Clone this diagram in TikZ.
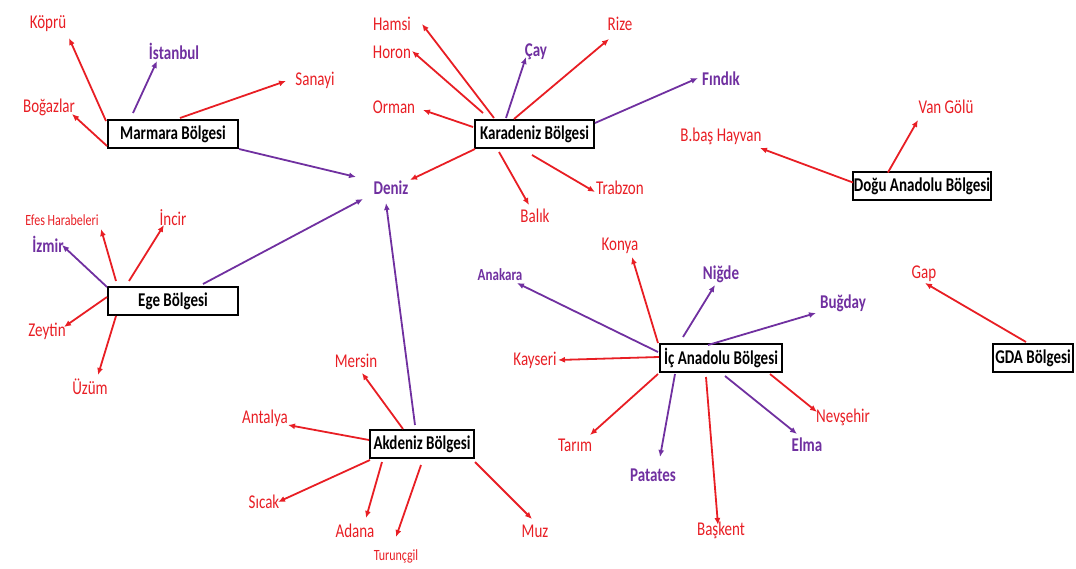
\documentclass[tikz,border=0pt]{standalone}
\usepackage{fontspec}
\usepackage{graphicx}
\setmainfont{Carlito}
\usetikzlibrary{arrows.meta}
\definecolor{rd}{RGB}{232,30,36}
\definecolor{pu}{RGB}{112,48,160}
% the original text is drawn taller than it is wide
\newcommand{\st}[1]{\scalebox{1}[1.3]{#1}}
\begin{document}
\begin{tikzpicture}[x=1pt,y=-1pt,
  box/.style={draw,line width=2pt,inner sep=1pt,minimum height=28pt,font=\fontsize{15}{18}\selectfont\bfseries},
  rl/.style={text=rd,inner sep=1pt,font=\fontsize{15}{18}\selectfont},
  pl/.style={text=pu,inner sep=1pt,font=\fontsize{15}{18}\selectfont\bfseries},
  sm/.style={font=\fontsize{12}{14}\selectfont},
  ra/.style={draw=rd,line width=1.8pt,-{Latex[length=7pt,width=6pt]}},
  pa/.style={draw=pu,line width=1.8pt,-{Latex[length=7pt,width=6pt]}}]
\useasboundingbox (0,0) rectangle (1076,569);
% regions
\node[box,minimum width=130pt] (mar) at (173,134) {\st{Marmara Bölgesi}};
\node[box,minimum width=119pt] (kar) at (534.5,134) {\st{Karadeniz Bölgesi}};
\node[box,minimum width=138pt] (dogu) at (922,186.5) {\st{Doğu Anadolu Bölgesi}};
\node[box,minimum width=130pt] (ege) at (173,301) {\st{Ege Bölgesi}};
\node[box,minimum width=104pt] (akd) at (422,444) {\st{Akdeniz Bölgesi}};
\node[box,minimum width=122pt] (ic) at (721,358) {\st{İç Anadolu Bölgesi}};
\node[box,minimum width=80pt] (gda) at (1033,358) {\st{GDA Bölgesi}};
% labels
\node[rl] (kopru) at (48,24) {\st{Köprü}};
\node[pl] (istanbul) at (174,51) {\st{İstanbul}};
\node[rl] (sanayi) at (315,80) {\st{Sanayi}};
\node[rl] (bogazlar) at (49,107) {\st{Boğazlar}};
\node[rl] (hamsi) at (392,24) {\st{Hamsi}};
\node[rl] (horon) at (392,52) {\st{Horon}};
\node[rl] (orman) at (394,107) {\st{Orman}};
\node[pl] (cay) at (536,52) {\st{Çay}};
\node[rl] (rize) at (620,24) {\st{Rize}};
\node[pl] (findik) at (721,79) {\st{Fındık}};
\node[pl] (deniz) at (391,188) {\st{Deniz}};
\node[rl] (balik) at (535,216) {\st{Balık}};
\node[rl] (trabzon) at (620,188) {\st{Trabzon}};
\node[rl] (vangolu) at (946,107) {\st{Van Gölü}};
\node[rl] (bbas) at (721,136) {\st{B.baş Hayvan}};
\node[rl,sm] (efes) at (62,220) {\st{Efes Harabeleri}};
\node[rl] (incir) at (173,218) {\st{İncir}};
\node[pl] (izmir) at (48,244) {\st{İzmir}};
\node[rl] (zeytin) at (47,331) {\st{Zeytin}};
\node[rl] (uzum) at (90,387) {\st{Üzüm}};
\node[rl] (mersin) at (356,361) {\st{Mersin}};
\node[rl] (antalya) at (265,418) {\st{Antalya}};
\node[rl] (sicak) at (264,502) {\st{Sıcak}};
\node[rl] (adana) at (355,531) {\st{Adana}};
\node[rl,sm] (turuncgil) at (396,556) {\st{Turunçgil}};
\node[rl] (muz) at (535,531) {\st{Muz}};
\node[rl] (konya) at (620,246) {\st{Konya}};
\node[pl,font=\fontsize{13}{15}\selectfont\bfseries] (anakara) at (500,275) {\st{Anakara}};
\node[pl] (nigde) at (721,274) {\st{Niğde}};
\node[pl] (bugday) at (843,303) {\st{Buğday}};
\node[rl] (kayseri) at (535,360) {\st{Kayseri}};
\node[rl] (tarim) at (575,445) {\st{Tarım}};
\node[pl] (patates) at (653,475) {\st{Patates}};
\node[rl] (baskent) at (721,530) {\st{Başkent}};
\node[pl] (elma) at (807,445) {\st{Elma}};
\node[rl] (nevsehir) at (843,417) {\st{Nevşehir}};
\node[rl] (gap) at (924,274) {\st{Gap}};
% Marmara
\draw[ra] ([shift={(-1,2)}]mar.north west) -- ([shift={(21,14)}]kopru.center);
\draw[pa] ([shift={(26,-6)}]mar.north west) -- ([shift={(-17,10)}]istanbul.center);
\draw[ra] ([shift={(73,-1)}]mar.north west) -- ([shift={(-29,1)}]sanayi.center);
\draw[ra] ([shift={(0,-3)}]mar.south west) -- ([shift={(23,7)}]bogazlar.center);
\draw[pa] (mar.south east) -- ([shift={(-35,-11)}]deniz.center);
% Karadeniz
\draw[ra] ([shift={(20,-1)}]kar.north west) -- ([shift={(30,0)}]hamsi.center);
\draw[ra] ([shift={(9,-6)}]kar.north west) -- ([shift={(20,-1)}]horon.center);
\draw[ra] ([shift={(-1,-7)}]kar.west) -- ([shift={(29,3)}]orman.center);
\draw[pa] ([shift={(32,-1)}]kar.north west) -- ([shift={(-10,5)}]cay.center);
\draw[ra] ([shift={(40,0)}]kar.north west) -- ([shift={(-11,15)}]rize.center);
\draw[pa] ([shift={(0,4)}]kar.north east) -- ([shift={(-23,-1)}]findik.center);
\draw[ra] ([shift={(1,0)}]kar.south west) -- ([shift={(19,-8)}]deniz.center);
\draw[ra] ([shift={(25,3)}]kar.south west) -- ([shift={(-6,-11)}]balik.center);
\draw[ra] ([shift={(58,6)}]kar.south west) -- ([shift={(-25,4)}]trabzon.center);
% Dogu Anadolu
\draw[ra] ([shift={(36,1)}]dogu.north west) -- ([shift={(-28,13)}]vangolu.center);
\draw[ra] ([shift={(1,11)}]dogu.north west) -- ([shift={(39,12)}]bbas.center);
% Ege
\draw[ra] ([shift={(9,-5)}]ege.north west) -- ([shift={(39,9)}]efes.center);
\draw[ra] ([shift={(22,-5)}]ege.north west) -- ([shift={(-9,7)}]incir.center);
\draw[pa] ([shift={(0,1)}]ege.north west) -- ([shift={(14,1)}]izmir.center);
\draw[ra] ([shift={(0,-4)}]ege.west) -- ([shift={(17,-4)}]zeytin.center);
\draw[ra] ([shift={(9,0)}]ege.south west) -- ([shift={(8,-12)}]uzum.center);
\draw[pa] ([shift={(96,-2)}]ege.north west) -- ([shift={(-28,11)}]deniz.center);
% Akdeniz
\draw[pa] ([shift={(46,-4)}]akd.north west) -- ([shift={(-5,15)}]deniz.center);
\draw[ra] ([shift={(34,0)}]akd.north west) -- ([shift={(6,12)}]mersin.center);
\draw[ra] ([shift={(0,-4)}]akd.west) -- ([shift={(23,7)}]antalya.center);
\draw[ra] ([shift={(1,1)}]akd.south west) -- ([shift={(14,0)}]sicak.center);
\draw[ra] ([shift={(13,3)}]akd.south west) -- ([shift={(11,-13)}]adana.center);
\draw[ra] ([shift={(52,6)}]akd.south west) -- ([shift={(0,-19)}]turuncgil.center);
\draw[ra] ([shift={(0,3)}]akd.south east) -- ([shift={(-3,-12)}]muz.center);
% Ic Anadolu
\draw[ra] ([shift={(-1,0)}]ic.north west) -- ([shift={(12,11)}]konya.center);
\draw[pa] ([shift={(-1,-6)}]ic.west) -- ([shift={(17,8)}]anakara.center);
\draw[pa] ([shift={(24,-6)}]ic.north west) -- ([shift={(-6,11)}]nigde.center);
\draw[pa] ([shift={(49,2)}]ic.north west) -- ([shift={(-27,10)}]bugday.center);
\draw[ra] ([shift={(0,-1)}]ic.west) -- ([shift={(23,0)}]kayseri.center);
\draw[ra] ([shift={(-1,1)}]ic.south west) -- ([shift={(15,-10)}]tarim.center);
\draw[pa] ([shift={(16,1)}]ic.south west) -- ([shift={(7,-18)}]patates.center);
\draw[ra] ([shift={(47,4)}]ic.south west) -- ([shift={(-3,-5)}]baskent.center);
\draw[pa] ([shift={(66,3)}]ic.south west) -- ([shift={(-10,-11)}]elma.center);
\draw[ra] ([shift={(111,1)}]ic.south west) -- ([shift={(-26,-5)}]nevsehir.center);
% GDA
\draw[ra] ([shift={(34,-1)}]gda.north west) -- ([shift={(1,9)}]gap.center);
\end{tikzpicture}
\end{document}
